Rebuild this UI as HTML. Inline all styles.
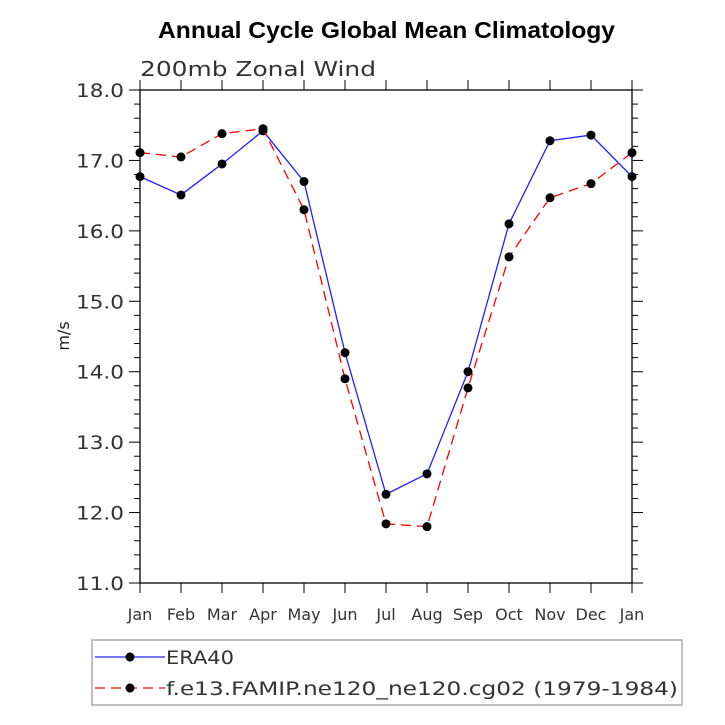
<!DOCTYPE html>
<html><head><meta charset="utf-8"><style>
html,body{margin:0;padding:0;background:#fff;width:725px;height:725px;overflow:hidden}
svg text{font-family:"DejaVu Sans",sans-serif}
svg text.title{font-family:"Liberation Sans",sans-serif}
</style></head><body>
<svg id="chart" width="725" height="725" xmlns="http://www.w3.org/2000/svg">
<text class="title" x="158" y="38" font-size="23" font-weight="bold" textLength="457" lengthAdjust="spacingAndGlyphs">Annual Cycle Global Mean Climatology</text>
<text x="140" y="76" font-size="20" fill="#333" textLength="236" lengthAdjust="spacingAndGlyphs">200mb Zonal Wind</text>
<text transform="translate(69,336) rotate(-90)" text-anchor="middle" font-size="16" fill="#222">m/s</text>
<g id="axes"></g>
<g id="series"></g>
<rect x="92" y="640" width="590" height="65" fill="none" stroke="#aaa" stroke-width="1.5"/>
<g>
<line x1="95" y1="657" x2="165" y2="657" stroke="#2020ff" stroke-width="1.3"/>
<circle cx="130" cy="657" r="4.5" fill="#000"/>
<text x="166" y="664" font-size="19" fill="#333" textLength="68" lengthAdjust="spacingAndGlyphs">ERA40</text>
</g>
<g>
<line x1="95" y1="688" x2="165" y2="688" stroke="#ff0000" stroke-width="1.3" stroke-dasharray="10,6"/>
<circle cx="130" cy="688" r="4.5" fill="#000"/>
<text x="166" y="695" font-size="19" fill="#333" textLength="512" lengthAdjust="spacingAndGlyphs">f.e13.FAMIP.ne120_ne120.cg02 (1979-1984)</text>
</g>
</svg>
<script>
const months=["Jan","Feb","Mar","Apr","May","Jun","Jul","Aug","Sep","Oct","Nov","Dec","Jan"];
const era40=[16.77,16.51,16.95,17.42,16.70,14.27,12.26,12.55,14.00,16.10,17.28,17.36,16.77];
const model=[17.11,17.05,17.38,17.45,16.30,13.90,11.84,11.80,13.77,15.63,16.47,16.67,17.11];
const yTicks=[11,12,13,14,15,16,17,18];
const L=140,R=632,T=90,B=583,ymin=11,ymax=18;
const NS="http://www.w3.org/2000/svg";
const xs=i=>L+(R-L)*i/(months.length-1);
const ys=v=>B-(v-ymin)/(ymax-ymin)*(B-T);
function mk(t,a,p){const e=document.createElementNS(NS,t);for(const k in a)e.setAttribute(k,a[k]);p.appendChild(e);return e;}
const ax=document.getElementById('axes');
const frame=mk('rect',{x:L,y:T,width:R-L,height:B-T,fill:'none',stroke:'#000','stroke-width':1.3},ax);


months.forEach((m,i)=>{
  const x=xs(i);
  mk('line',{x1:x,y1:B,x2:x,y2:B+10,stroke:'#000'},ax);
  mk('line',{x1:x,y1:T,x2:x,y2:T-10,stroke:'#000'},ax);
  const t=mk('text',{x:x,y:B+37,'text-anchor':'middle','font-size':16,fill:'#333'},ax);
  t.textContent=m;
  
  
});
yTicks.forEach((v,i)=>{
  const y=ys(v);
  mk('line',{x1:L,y1:y,x2:L-11,y2:y,stroke:'#000'},ax);
  mk('line',{x1:R,y1:y,x2:R+11,y2:y,stroke:'#000'},ax);
  const t=mk('text',{x:L-16,y:y+7,'text-anchor':'end','font-size':19,fill:'#333',textLength:48,lengthAdjust:'spacingAndGlyphs'},ax);
  t.textContent=v.toFixed(1);
  
  
  if(i<yTicks.length-1){for(let k=1;k<5;k++){const yy=ys(v+k*0.2);
    mk('line',{x1:L,y1:yy,x2:L-6,y2:yy,stroke:'#000'},ax);
    mk('line',{x1:R,y1:yy,x2:R+6,y2:yy,stroke:'#000'},ax);}}
});
const sg=document.getElementById('series');
function series(data,color,dash,name){
  const g=mk('g',{},sg);
  
  
  const a={points:data.map((v,i)=>xs(i)+','+ys(v)).join(' '),fill:'none',stroke:color,'stroke-width':1.3};
  if(dash)a['stroke-dasharray']=dash;
  mk('polyline',a,g);
  data.forEach((v,i)=>{const c=mk('circle',{cx:xs(i),cy:ys(v),r:4.5,fill:'#000'},g);
    
    });
}
series(era40,'#2020ff',null,'series-era40');
series(model,'#ff0000','10,6','series-model');
</script>
</body></html>
